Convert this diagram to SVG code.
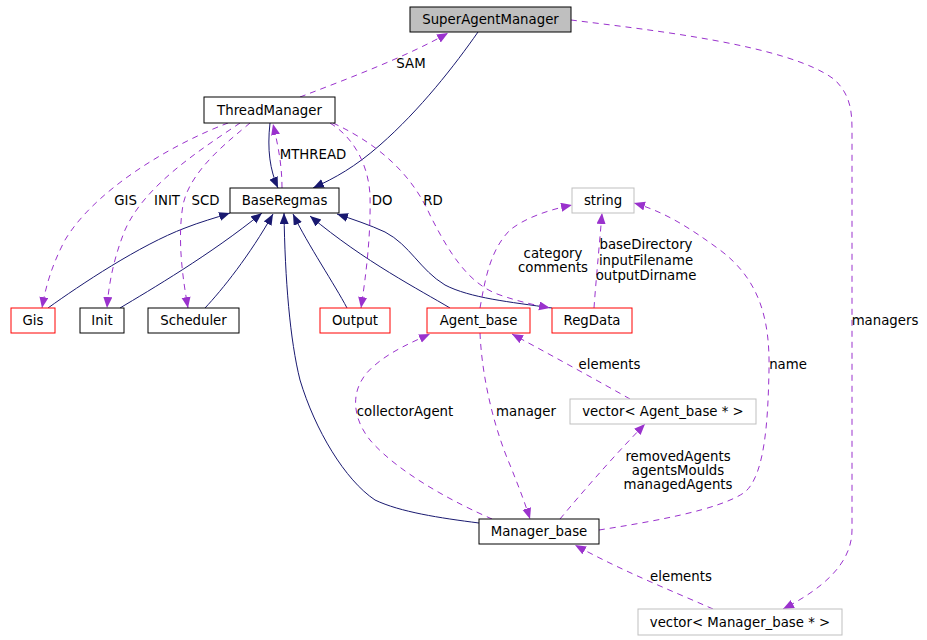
<svg xmlns="http://www.w3.org/2000/svg" width="927" height="640" viewBox="0 0 927 640">
<style>
text{font-family:"DejaVu Sans","Liberation Sans",sans-serif;font-size:13.3px;fill:#000;text-anchor:middle}
.n{fill:#fff;stroke:#000;stroke-width:1}
.r{fill:#fff;stroke:#ff0000;stroke-width:1}
.g{fill:#fff;stroke:#bfbfbf;stroke-width:1}
.inh{fill:none;stroke:#191970;stroke-width:1;marker-end:url(#ab)}
.use{fill:none;stroke:#9a32cd;stroke-width:1;stroke-dasharray:6,5;marker-end:url(#ap)}
</style>
<defs>
<marker id="ab" markerUnits="userSpaceOnUse" markerWidth="12" markerHeight="10" refX="11" refY="4.5" orient="auto"><path d="M0,0 L11,4.5 L0,9 z" fill="#191970"/></marker>
<marker id="ap" markerUnits="userSpaceOnUse" markerWidth="12" markerHeight="10" refX="11" refY="4.5" orient="auto"><path d="M0,0 L11,4.5 L0,9 z" fill="#9a32cd"/></marker>
</defs>
<rect width="927" height="640" fill="#fff"/>
<g id="edges">
<path class="inh" d="M478,32 C455,65 420,110 380,145 C355,167 335,178 313,188"/>
<path class="inh" d="M270,123 C267,150 270,170 278,188"/>
<path class="inh" d="M48,308 C80,285 140,245 185,228 C200,222 215,218 230,213"/>
<path class="inh" d="M120,308 C150,290 210,255 262,213"/>
<path class="inh" d="M205,308 C222,290 250,255 273,214"/>
<path class="inh" d="M479,523 C440,518 400,512 375,500 C345,480 315,430 300,380 C290,340 285,280 284,213"/>
<path class="inh" d="M347,308 C335,285 308,245 293,214"/>
<path class="inh" d="M450,308 C420,290 365,262 310,216"/>
<path class="inh" d="M552,308 C510,302 470,298 445,285 C420,270 410,245 385,232 C370,225 352,219 337,214"/>
<path class="use" d="M300,97 C350,78 410,55 448,33"/>
<path class="use" d="M282,188 C282,165 278,145 273,124"/>
<path class="use" d="M228,123 C170,145 95,190 65,240 C52,265 46,285 42,308"/>
<path class="use" d="M240,123 C200,150 145,185 125,230 C115,255 109,280 107,308"/>
<path class="use" d="M250,123 C230,140 190,170 183,205 C177,240 183,280 188,308"/>
<path class="use" d="M330,123 C350,135 368,160 370,195 C371,235 366,275 361,308"/>
<path class="use" d="M333,123 C380,145 412,175 430,215 C450,255 470,285 500,295 C520,302 535,305 550,308"/>
<path class="use" d="M480,308 C485,280 490,250 510,230 C525,218 548,210 572,205"/>
<path class="use" d="M594,308 C596,280 599,250 602,213"/>
<path class="use" d="M599,530 C650,522 720,510 745,492 C765,475 768,420 769,370 C770,320 760,280 720,250 C690,228 665,212 634,203"/>
<path class="use" d="M480,333 C482,380 495,430 510,465 C518,485 524,500 530,519"/>
<path class="use" d="M492,519 C460,505 400,475 370,440 C350,415 350,385 375,365 C390,352 410,343 430,334"/>
<path class="use" d="M630,399 C600,382 560,360 512,334"/>
<path class="use" d="M560,519 C580,495 610,460 645,424"/>
<path class="use" d="M713,609 C670,590 620,570 575,545"/>
<path class="use" d="M571,20 C650,30 790,45 835,80 C850,95 852,110 852,130 L852,530 C852,565 820,590 783,609"/>
<text x="411" y="68">SAM</text>
<text x="313" y="159">MTHREAD</text>
<text x="125.5" y="205">GIS</text>
<text x="167" y="205">INIT</text>
<text x="205.5" y="205">SCD</text>
<text x="382" y="205">DO</text>
<text x="433" y="205">RD</text>
<text x="553" y="258">category</text>
<text x="553" y="272">comments</text>
<text x="646" y="249">baseDirectory</text>
<text x="646" y="264.5">inputFilename</text>
<text x="646" y="280">outputDirname</text>
<text x="609.5" y="368.5">elements</text>
<text x="788" y="368.5">name</text>
<text x="405" y="415.5">collectorAgent</text>
<text x="526" y="415.5">manager</text>
<text x="678" y="460.5">removedAgents</text>
<text x="678" y="474.5">agentsMoulds</text>
<text x="678" y="488.5">managedAgents</text>
<text x="681" y="580.5">elements</text>
<text x="885" y="324.5">managers</text>
</g>
<g id="SuperAgentManager"><rect x="410" y="7" width="161" height="25" fill="#bfbfbf" stroke="#000"/><text x="490.5" y="24">SuperAgentManager</text></g>
<g id="ThreadManager"><rect class="n" x="204" y="97" width="131" height="26"/><text x="269.5" y="114.5">ThreadManager</text></g>
<g id="BaseRegmas"><rect class="n" x="230" y="188" width="109" height="25"/><text x="284.5" y="205">BaseRegmas</text></g>
<g id="Gis"><rect class="r" x="11" y="308" width="44" height="25"/><text x="33" y="325">Gis</text></g>
<g id="Init"><rect class="n" x="80" y="308" width="44" height="25"/><text x="102" y="325">Init</text></g>
<g id="Scheduler"><rect class="n" x="148" y="308" width="91" height="25"/><text x="193.5" y="325">Scheduler</text></g>
<g id="Output"><rect class="r" x="320" y="308" width="70" height="25"/><text x="355" y="325">Output</text></g>
<g id="Agent_base"><rect class="r" x="427" y="308" width="103" height="25"/><text x="478.5" y="325">Agent_base</text></g>
<g id="RegData"><rect class="r" x="552" y="308" width="80" height="25"/><text x="592" y="325">RegData</text></g>
<g id="string"><rect class="g" x="572" y="188" width="62" height="25"/><text x="603" y="205">string</text></g>
<g id="vectorAgent"><rect class="g" x="570" y="399" width="186" height="25"/><text x="663" y="416">vector&lt; Agent_base * &gt;</text></g>
<g id="Manager_base"><rect class="n" x="479" y="519" width="120" height="25"/><text x="539" y="536">Manager_base</text></g>
<g id="vectorManager"><rect class="g" x="638" y="609" width="204" height="26"/><text x="740" y="626.5">vector&lt; Manager_base * &gt;</text></g>
</svg>
